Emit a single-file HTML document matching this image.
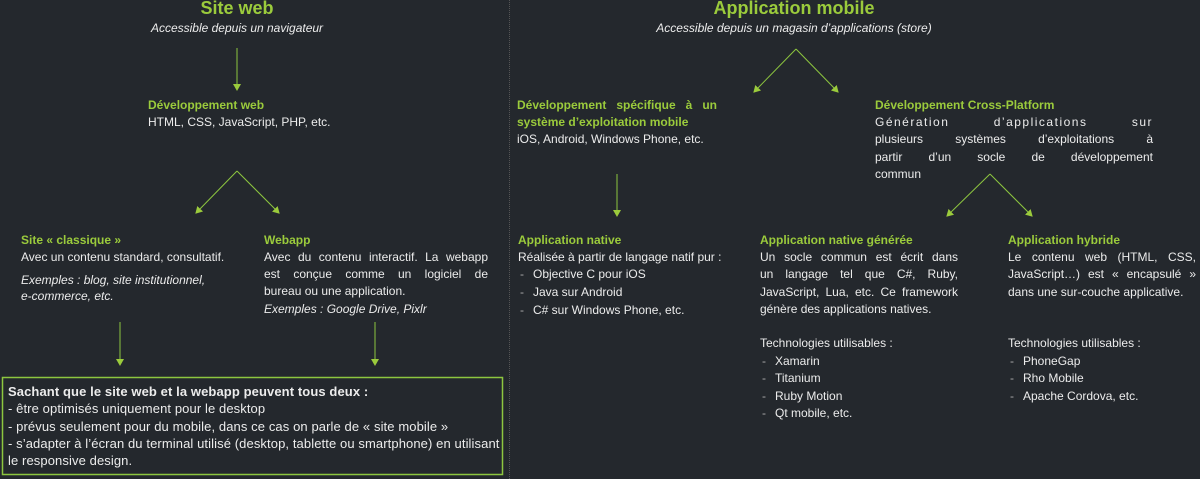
<!DOCTYPE html>
<html><head><meta charset="utf-8"><style>
body{margin:0;width:1200px;height:479px;background:#24282d;overflow:hidden;position:relative;font-family:"Liberation Sans",sans-serif;color:#ececec;font-size:12px;letter-spacing:0}
.l{position:absolute;white-space:nowrap;line-height:16px}
.g{color:#9bcb3c;font-weight:bold}
.i{font-style:italic}
.j{text-align:justify;text-align-last:justify;white-space:normal}
.t{position:absolute;color:#9bcb3c;font-weight:bold;font-size:18px;text-align:center;width:400px;line-height:20px}
.s{position:absolute;font-style:italic;text-align:center;width:400px;line-height:16px}
.d{color:#aaa}
.b{font-size:13px;letter-spacing:0.1px}
</style></head><body>
<div style="position:absolute;left:509px;top:0;width:0;height:479px;border-left:1px dotted #555"></div>
<svg width="1200" height="479" style="position:absolute;left:0;top:0">
<defs><marker id="a" markerWidth="8" markerHeight="8" refX="6" refY="4" orient="auto" markerUnits="userSpaceOnUse"><path d="M0,0 L7,4 L0,8 Z" fill="#9bcb3c"/></marker></defs>
<g stroke="#8dc63f" stroke-width="1" fill="none" marker-end="url(#a)">
<line x1="237" y1="48" x2="237" y2="90"/>
<line x1="237" y1="171" x2="196" y2="213"/>
<line x1="237" y1="171" x2="279" y2="213"/>
<line x1="120" y1="322" x2="120" y2="365"/>
<line x1="375" y1="322" x2="375" y2="365"/>
<line x1="796" y1="49" x2="754" y2="92"/>
<line x1="796" y1="49" x2="838" y2="92"/>
<line x1="617" y1="174" x2="617" y2="216"/>
<line x1="990" y1="174" x2="947" y2="216"/>
<line x1="990" y1="174" x2="1032" y2="216"/>
</g>
<rect x="2.5" y="377.5" width="500" height="97" fill="none" stroke="#8dc63f" stroke-width="1.5"/>
</svg>

<div class="t" style="left:37px;top:-2px">Site web</div>
<div class="s" style="left:37px;top:20px">Accessible depuis un navigateur</div>
<div class="l g" style="left:148px;top:97px">Développement web</div>
<div class="l" style="left:148px;top:114px">HTML, CSS, JavaScript, PHP, etc.</div>

<div class="l g" style="left:21px;top:232px">Site « classique »</div>
<div class="l" style="left:21px;top:249px">Avec un contenu standard, consultatif.</div>
<div class="l i" style="left:21px;top:272px">Exemples : blog, site institutionnel,</div>
<div class="l i" style="left:21px;top:288px">e-commerce, etc.</div>

<div class="l g" style="left:264px;top:232px">Webapp</div>
<div class="l j" style="left:264px;top:249px;width:224px">Avec du contenu interactif. La webapp</div>
<div class="l j" style="left:264px;top:266px;width:224px">est conçue comme un logiciel de</div>
<div class="l" style="left:264px;top:283px">bureau ou une application.</div>
<div class="l i" style="left:264px;top:301px">Exemples : Google Drive, Pixlr</div>

<div class="l b" style="left:8px;top:384px;font-weight:bold">Sachant que le site web et la webapp peuvent tous deux :</div>
<div class="l b" style="left:8px;top:401px">- être optimisés uniquement pour le desktop</div>
<div class="l b" style="left:8px;top:419px">- prévus seulement pour du mobile, dans ce cas on parle de « site mobile »</div>
<div class="l b" style="left:8px;top:436px">- s’adapter à l’écran du terminal utilisé (desktop, tablette ou smartphone) en utilisant</div>
<div class="l b" style="left:8px;top:453px">le responsive design.</div>

<div class="t" style="left:594px;top:-2px">Application mobile</div>
<div class="s" style="left:594px;top:20px">Accessible depuis un magasin d’applications (store)</div>

<div class="l g j" style="left:517px;top:97px;width:200px">Développement spécifique à un</div>
<div class="l g" style="left:517px;top:114px">système d’exploitation mobile</div>
<div class="l" style="left:517px;top:131px">iOS, Android, Windows Phone, etc.</div>

<div class="l g" style="left:875px;top:97px">Développement Cross-Platform</div>
<div class="l j" style="left:875px;top:114px;width:278px;letter-spacing:1.5px">Génération d’applications sur</div>
<div class="l j" style="left:875px;top:131px;width:278px">plusieurs systèmes d’exploitations à</div>
<div class="l j" style="left:875px;top:149px;width:278px">partir d’un socle de développement</div>
<div class="l" style="left:875px;top:166px">commun</div>

<div class="l g" style="left:518px;top:232px">Application native</div>
<div class="l" style="left:518px;top:249px">Réalisée à partir de langage natif pur :</div>
<div class="l d" style="left:520px;top:266px">-</div><div class="l" style="left:533px;top:266px">Objective C pour iOS</div>
<div class="l d" style="left:520px;top:284px">-</div><div class="l" style="left:533px;top:284px">Java sur Android</div>
<div class="l d" style="left:520px;top:302px">-</div><div class="l" style="left:533px;top:302px">C# sur Windows Phone, etc.</div>

<div class="l g" style="left:760px;top:232px">Application native générée</div>
<div class="l j" style="left:760px;top:249px;width:198px">Un socle commun est écrit dans</div>
<div class="l j" style="left:760px;top:266px;width:198px">un langage tel que C#, Ruby,</div>
<div class="l j" style="left:760px;top:284px;width:198px">JavaScript, Lua, etc. Ce framework</div>
<div class="l" style="left:760px;top:301px">génère des applications natives.</div>
<div class="l" style="left:760px;top:335px">Technologies utilisables :</div>
<div class="l d" style="left:762px;top:353px">-</div><div class="l" style="left:775px;top:353px">Xamarin</div>
<div class="l d" style="left:762px;top:370px">-</div><div class="l" style="left:775px;top:370px">Titanium</div>
<div class="l d" style="left:762px;top:388px">-</div><div class="l" style="left:775px;top:388px">Ruby Motion</div>
<div class="l d" style="left:762px;top:405px">-</div><div class="l" style="left:775px;top:405px">Qt mobile, etc.</div>

<div class="l g" style="left:1008px;top:232px">Application hybride</div>
<div class="l j" style="left:1008px;top:249px;width:188px">Le contenu web (HTML, CSS,</div>
<div class="l j" style="left:1008px;top:266px;width:188px">JavaScript…) est « encapsulé »</div>
<div class="l" style="left:1008px;top:284px">dans une sur-couche applicative.</div>
<div class="l" style="left:1008px;top:335px">Technologies utilisables :</div>
<div class="l d" style="left:1010px;top:353px">-</div><div class="l" style="left:1023px;top:353px">PhoneGap</div>
<div class="l d" style="left:1010px;top:370px">-</div><div class="l" style="left:1023px;top:370px">Rho Mobile</div>
<div class="l d" style="left:1010px;top:388px">-</div><div class="l" style="left:1023px;top:388px">Apache Cordova, etc.</div>
</body></html>
